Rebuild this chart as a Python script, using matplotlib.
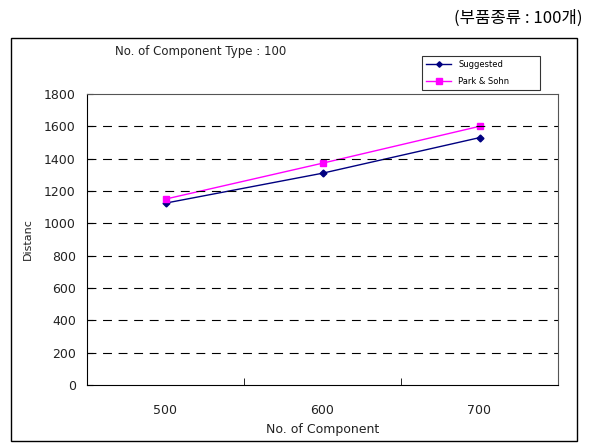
import matplotlib.pyplot as plt
from matplotlib.patches import Rectangle

plt.rcParams['font.family'] = ['DejaVu Sans']

categories = ['500', '600', '700']
suggested = [1125, 1310, 1530]
park_sohn = [1150, 1372, 1600]
yticks = [0, 200, 400, 600, 800, 1000, 1200, 1400, 1600, 1800]

fig = plt.figure(figsize=(5.9, 4.43), dpi=100)

# outer chart frame
fig.patches.append(Rectangle((11/590, 2/443), 566/590, 403/443, transform=fig.transFigure,
                             fill=False, edgecolor='black', linewidth=1.0))

ax = fig.add_axes([87/590, 58/443, 471/590, 291/443])
x = range(len(categories))
ax.plot(x, suggested, color='#000080', marker='D', markersize=3.5, linewidth=1.0, label='Suggested')
ax.plot(x, park_sohn, color='#ff00ff', marker='s', markersize=5, linewidth=1.0, label='Park & Sohn')

ax.set_xlim(-0.5, len(categories) - 0.5)
ax.set_ylim(0, 1800)
ax.set_yticks(yticks)
ax.set_yticklabels([str(v) for v in yticks], fontsize=9, color='#222222')
ax.set_xticks(list(x))
ax.set_xticklabels(categories, fontsize=9, color='#222222')
ax.tick_params(axis='x', length=0, pad=14)
ax.set_xticks([0.5, 1.5], minor=True)
ax.tick_params(axis='x', which='minor', length=5, direction='in')
ax.tick_params(axis='y', length=4, direction='in', pad=8)
for v in yticks[1:-1]:
    ax.axhline(v, color='black', linestyle=(0, (8, 6)), linewidth=0.8)
ax.spines['top'].set_color('#555555')
ax.spines['right'].set_color('#555555')
ax.set_xlabel('No. of Component', fontsize=9, color='#222222', labelpad=4)
ax.set_ylabel('Distanc', fontsize=8, color='#222222', labelpad=8)

leg = ax.legend(loc='upper left', bbox_to_anchor=(418/590, 356/443, 126/590, 35/443),
                bbox_transform=fig.transFigure, mode='expand',
                fontsize=6, frameon=True, fancybox=False, edgecolor='black', handlelength=3,
                borderpad=0.5, labelspacing=0.9, markerscale=0.8)
leg.get_frame().set_linewidth(0.8)

fig.text(115/590, 1 - 52/443, 'No. of Component Type : 100', fontsize=8.5, va='center', color='#222222')
fig.text(583/590, 1 - 18/443, '(부품종류 : 100개)', fontsize=12, ha='right', va='center',
         family=['Noto Sans CJK KR', 'DejaVu Sans'])

fig.savefig('out.png', dpi=100)
